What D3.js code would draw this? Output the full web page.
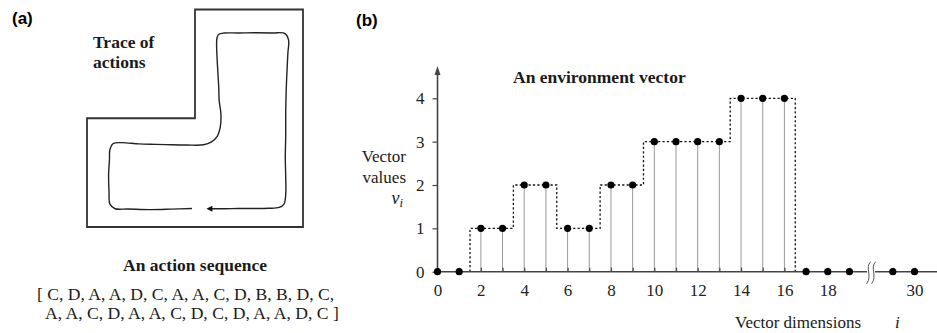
<!DOCTYPE html>
<html><head><meta charset="utf-8">
<script src="https://cdn.jsdelivr.net/npm/d3@7"></script>
<style>
body{margin:0;background:#fff;}
svg{display:block;}
</style></head>
<body>
<svg id="c" width="937" height="333"></svg>
<script>
// ---------- DATA ----------
// Panel (b): environment vector
const dims = [0,1,2,3,4,5,6,7,8,9,10,11,12,13,14,15,16,17,18,19,29,30];
const values = [0,0,1,1,2,2,1,1,2,2,3,3,3,3,4,4,4,0,0,0,0,0];
const xTickLabels = [0,2,4,6,8,10,12,14,16,18,30];
const yTickLabels = [0,1,2,3,4];
// Panel (a): room outline and trace (room units 0..10)
const roomX = [5,10,10,0,0,5];
const roomY = [0,0,10,10,5,5];
const traceX = [4.86,3.9,2.9,1.9,1.3,1.06,1.02,1.0,1.04,1.06,1.2,1.6,2.4,3.2,3.9,4.6,5.4,5.75,6.02,6.17,6.2,6.12,6.1,6.06,6.02,6.0,6.02,6.1,6.35,7.0,7.8,8.6,9.15,9.33,9.3,9.26,9.22,9.2,9.2,9.18,9.2,9.2,9.12,8.9,8.4,7.7,7.0,6.4,5.75];
const traceY = [9.15,9.18,9.2,9.17,9.16,8.95,8.4,7.6,6.9,6.45,6.17,6.12,6.18,6.2,6.22,6.23,6.22,6.1,5.85,5.4,4.8,4.2,3.6,2.9,2.2,1.6,1.3,1.14,1.08,1.08,1.07,1.08,1.1,1.4,2.0,2.8,3.8,4.8,5.8,6.8,7.7,8.5,8.95,9.1,9.14,9.15,9.15,9.16,9.16];
const actions1 = "[ C, D, A, A, D, C, A, A, C, D, B, B, D, C,";
const actions2 = "A, A, C, D, A, A, C, D, C, D, A, A, D, C ]";

// ---------- DRAW ----------
const svg = d3.select("#c");
const serif = 'Liberation Serif';
const sans = 'Liberation Sans';
const T = (x0,y0,txt,o={}) => {
  const t = svg.append("text").attr("x",x0).attr("y",y0)
    .style("font-family", o.fam||serif).style("font-size",(o.size||17)+"px")
    .style("font-weight", o.bold?"bold":"normal").style("font-style", o.italic?"italic":"normal")
    .attr("fill", o.fill||"#1a1a1a").attr("text-anchor", o.anchor||"start");
  if (txt!==null) t.text(txt);
  return t;
};

// panel labels
T(12,24,"(a)",{fam:sans,bold:true,size:17,fill:"#000"});
T(356,26,"(b)",{fam:sans,bold:true,size:17,fill:"#000"});

// ---- Panel (a)
const ax = d3.scaleLinear().domain([0,10]).range([87,303]);
const ay = d3.scaleLinear().domain([0,10]).range([9.5,227]);
const room = roomX.map((x,i)=>[x,roomY[i]]);
svg.append("path")
  .attr("d", d3.line().x(d=>ax(d[0])).y(d=>ay(d[1]))(room)+"Z")
  .attr("fill","none").attr("stroke","#333").attr("stroke-width",1.8);

const defs = svg.append("defs");
defs.append("marker").attr("id","arr").attr("viewBox","0 0 10 10")
  .attr("refX",2).attr("refY",5).attr("markerWidth",7).attr("markerHeight",6)
  .attr("markerUnits","userSpaceOnUse").attr("orient","auto")
  .append("path").attr("d","M0,0 L10,5 L0,10 Z").attr("fill","#111");

const trace = traceX.map((x,i)=>[x,traceY[i]]);
svg.append("path")
  .attr("d", d3.line().x(d=>ax(d[0])).y(d=>ay(d[1])).curve(d3.curveCatmullRom)(trace))
  .attr("fill","none").attr("stroke","#222").attr("stroke-width",1.4)
  .attr("marker-end","url(#arr)");

T(93,48,"Trace of",{bold:true,size:17.5});
T(93,68,"actions",{bold:true,size:17.5});

T(195,271,"An action sequence",{bold:true,size:17.5,anchor:"middle"});
T(37,300,actions1,{size:17.6});
T(45,319,actions2,{size:17.6});

// ---- Panel (b)
const pos = i => i<=19 ? i : i-8;
const x = d3.scaleLinear().domain([0,22]).range([437.5,914.5]);
const y = d3.scaleLinear().domain([0,4]).range([271.7,98.3]);
const axisColor = "#444";

// stems
const pts = dims.map((d,i)=>({d, v:values[i]}));
svg.append("g").selectAll("line").data(pts.filter(p=>p.v>0)).join("line")
  .attr("x1",p=>x(pos(p.d))).attr("x2",p=>x(pos(p.d)))
  .attr("y1",y(0)).attr("y2",p=>y(p.v))
  .attr("stroke","#999").attr("stroke-width",1);

// step outline (dotted)
const nz = pts.filter(p=>p.v>0);
const step = [[nz[0].d-0.5,0]];
nz.forEach(p=>{ step.push([p.d-0.5,p.v]); step.push([p.d+0.5,p.v]); });
step.push([nz[nz.length-1].d+0.5,0]);
svg.append("path")
  .attr("d", d3.line().x(d=>x(d[0])).y(d=>y(d[1]))(step))
  .attr("fill","none").attr("stroke","#111").attr("stroke-width",1.3)
  .attr("stroke-dasharray","2.2,2.2");

// axes lines
svg.append("line").attr("x1",x(0)).attr("x2",937).attr("y1",y(0)).attr("y2",y(0))
  .attr("stroke",axisColor).attr("stroke-width",1.6);
svg.append("line").attr("x1",x(0)).attr("x2",x(0)).attr("y1",y(0)).attr("y2",72)
  .attr("stroke",axisColor).attr("stroke-width",1.6);
svg.append("path").attr("d",`M${x(0)-3},${75} L${x(0)},${66} L${x(0)+3},${75} Z`).attr("fill",axisColor);

// y ticks
const yg = svg.append("g").attr("transform",`translate(${x(0)},0)`)
  .call(d3.axisLeft(y).tickValues(yTickLabels).tickFormat(d3.format("d")).tickSize(5).tickPadding(8));
yg.select(".domain").remove();
yg.selectAll("line").attr("stroke",axisColor).attr("stroke-width",1.2);
yg.selectAll("text").style("font-family",serif).style("font-size","17px").attr("fill","#222");

// x ticks: small up ticks at every dimension, labels at selected
const xg = svg.append("g").attr("transform",`translate(0,${y(0)})`)
  .call(d3.axisTop(x).tickValues(dims.map(pos)).tickFormat("").tickSize(4));
xg.select(".domain").remove();
xg.selectAll("line").attr("stroke",axisColor).attr("stroke-width",1.2);
const xl = svg.append("g").attr("transform",`translate(0,${y(0)})`)
  .call(d3.axisBottom(x).tickValues(xTickLabels.map(pos)).tickFormat((d,i)=>xTickLabels[i]).tickSize(0).tickPadding(12));
xl.select(".domain").remove();
xl.selectAll("text").style("font-family",serif).style("font-size","17px").attr("fill","#222");

// axis break
const bx = x(20), by = y(0);
svg.append("rect").attr("x",bx-4).attr("y",by-3).attr("width",8).attr("height",6).attr("fill","#fff");
[-2.5,2.5].forEach(o=>{
  svg.append("path").attr("d",`M${bx+o+2},${by-10} C${bx+o-4},${by-4} ${bx+o+4},${by+4} ${bx+o-2},${by+12}`)
    .attr("fill","none").attr("stroke","#555").attr("stroke-width",1);
});

// points
svg.append("g").selectAll("circle").data(pts).join("circle")
  .attr("cx",p=>x(pos(p.d))).attr("cy",p=>y(p.v)).attr("r",3.6).attr("fill","#000");

// titles & labels
T(513,83,"An environment vector",{bold:true,size:17.5});
T(406,162,"Vector",{anchor:"end"});
T(406,183,"values",{anchor:"end"});
const vi = T(403,204,null,{italic:true,size:18,anchor:"end"});
vi.append("tspan").text("v");
vi.append("tspan").style("font-size","13px").attr("dy",3).text("i");
T(735,328,"Vector dimensions");
T(895,328,"i",{italic:true});
</script>
</body></html>
